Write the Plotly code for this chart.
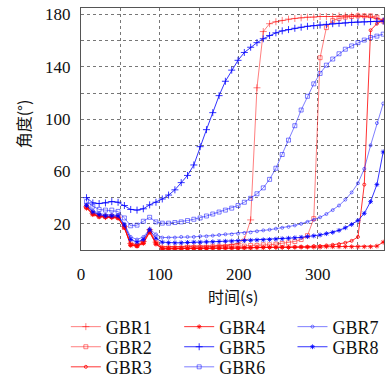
import plotly.graph_objects as go

# Sample times (s)
time_s = [7, 15, 23, 31, 39, 47, 55, 63, 71, 79, 87, 95, 103, 111, 119, 127,
          135, 143, 151, 159, 167, 175, 183, 191, 199, 207, 215, 223, 231, 239,
          247, 255, 263, 271, 279, 287, 295, 303, 311, 319, 327, 335, 343, 351,
          359, 367, 375, 383]

# Angle of each grain boundary (degrees)
gbr1 = [33, 28, 26, 25.5, 25.5, 25, 18, 5, 4, 6.5, 15.5, 6, 2.5,
        2.5, 2.5, 2.5, 3, 3, 3, 3, 3, 3.5, 3.5, 4, 5, 8, 23, 124, 167, 173,
        174.5, 175.5, 176.5, 177, 177.5, 178, 178, 178.5, 178.5, 178.5, 179, 179,
        179, 179, 178.5, 178, 177, 175]
gbr2 = [33, 28, 26, 25.5, 25.5, 25, 17.5, 4.5, 3.5, 6, 14.5, 5.5, 1.5,
        1.5, 1.5, 1.5, 2, 2, 2, 2, 2.5, 2.5, 2.5, 3, 3, 3, 3.5, 3.5, 4, 4,
        4.5, 5, 5.5, 6.5, 8, 11, 24, 147, 170, 175.5, 177, 178, 178.5, 179,
        179, 179, 178, 175]
gbr3 = [32.5, 27.5, 25.5, 25, 25, 24.5, 17, 4, 3, 5.5, 14, 5, 1,
        1, 1, 1, 1, 1, 1, 1.5, 1.5, 1.5, 1.5, 1.5, 1.5, 1.5, 1.5, 2, 2, 2,
        2, 2, 2, 2.5, 2.5, 2.5, 3, 3, 3.5, 4, 4.5, 5.5, 7, 10, 50, 168, 173,
        175.5]
gbr4 = [32, 27, 25.5, 25, 25, 24.5, 17, 3.5, 3, 5, 13.5, 4.5, 0.8,
        1, 1, 1, 1.2, 1.2, 1.2, 1.2, 1.5, 1.5, 1.5, 1.5, 1.5, 1.8, 1.8, 1.8,
        1.8, 2, 2, 2, 2, 2, 2.2, 2.2, 2.2, 2.2, 2.5, 2.5, 2.5, 2.5, 2.5, 2.5,
        2.5, 2.5, 3, 6]
gbr5 = [40, 36, 35.5, 36, 37, 36.5, 34, 31, 30.5, 31.5, 34.5, 36.5, 39,
        42, 46, 51.5, 57, 65, 79, 92, 105, 118, 129, 137.5, 145, 151, 155,
        158.5, 161.5, 164, 166, 167.5, 168.5, 169.5, 170.3, 171, 171.5, 172,
        172.5, 173, 173.3, 173.6, 174, 174.2, 174.4, 174.6, 174.8, 175]
gbr6 = [37, 33.5, 31, 30.5, 30.5, 29.5, 24.5, 18.5, 19, 22, 25, 21.5, 20.5,
        20.5, 21, 21.5, 22.5, 23.5, 24.5, 26, 27.5, 29, 30.5, 32, 34, 36.5,
        39.5, 43, 47.5, 54, 62.5, 73, 84, 95, 107, 117.5, 127, 135, 141.3,
        146, 150, 153.5, 156, 158.5, 160.5, 162.4, 163.5, 165]
gbr7 = [35, 30, 28, 27, 27, 26.5, 20, 10, 8, 10, 16, 12, 9.5,
        9.5, 9.5, 10, 10, 10, 10.5, 10.5, 11, 11.5, 12, 12, 12.5, 13, 13.5,
        14.3, 15, 15.5, 16.3, 17, 17.7, 18.8, 20, 21.5, 23, 25, 27.5, 30.5,
        34, 38.5, 44, 51, 62, 80, 97, 112]
gbr8 = [34, 29, 27, 26, 26, 26, 19, 8, 6, 8, 15.5, 9, 6,
        5.5, 5.5, 5.5, 5.8, 6, 6, 6.2, 6.3, 6.5, 6.7, 6.8, 7, 7.2, 7.4, 7.6,
        7.8, 8, 8.3, 8.6, 9, 9.3, 9.7, 10.2, 10.8, 11.5, 12.5, 13.5, 15, 17,
        19.5, 22.5, 28, 37, 50, 75]

x_tickvals = [0, 50, 100, 150, 200, 250, 300, 350]
x_ticktext = ["0", "", "100", "", "200", "", "300", ""]
y_tickvals = [0, 20, 40, 60, 80, 100, 120, 140, 160, 180]
y_ticktext = ["", "20", "", "60", "", "100", "", "140", "", "180"]

FONT = "Liberation Serif, Noto Sans CJK SC, serif"
CJK_FONT = "Noto Sans CJK SC, Liberation Serif, serif"
LIGHT_RED = "rgba(255,0,0,0.5)"
RED = "rgba(255,0,0,0.8)"
BLUE = "rgba(0,0,255,0.8)"
LIGHT_BLUE = "rgba(0,0,255,0.5)"

# name, values, colour, marker, marker size, legend column, legend row
series = [
    ("GBR1", gbr1, LIGHT_RED, "cross-thin-open", 5, 0, 0),
    ("GBR2", gbr2, LIGHT_RED, "square-open", 4, 0, 1),
    ("GBR3", gbr3, RED, "circle-open", 3, 0, 2),
    ("GBR4", gbr4, RED, "asterisk-open", 4, 1, 0),
    ("GBR5", gbr5, BLUE, "cross-thin-open", 5, 1, 1),
    ("GBR6", gbr6, LIGHT_BLUE, "square-open", 4, 1, 2),
    ("GBR7", gbr7, LIGHT_BLUE, "circle-open", 3, 2, 0),
    ("GBR8", gbr8, BLUE, "asterisk-open", 4, 2, 1),
]

legend_cols = [-0.05, 0.324, 0.698]
legend_rows = [-0.318, -0.401, -0.484]

fig = go.Figure()
layout_legends = {}
for i, (name, vals, color, symbol, size, col, row) in enumerate(series):
    key = "legend" if i == 0 else f"legend{i + 1}"
    fig.add_trace(go.Scatter(
        x=time_s, y=vals, name=name, mode="lines+markers",
        line=dict(color=color, width=1),
        marker=dict(symbol=symbol, size=size, color=color,
                    line=dict(color=color, width=1)),
        legend=key,
    ))
    layout_legends[key] = dict(
        x=legend_cols[col], y=legend_rows[row],
        xanchor="left", yanchor="middle", orientation="v",
        bgcolor="rgba(0,0,0,0)", borderwidth=0, itemwidth=30,
        font=dict(family=FONT, size=18, color="#111"),
    )

fig.update_layout(
    width=387, height=378,
    margin=dict(l=81, r=3, t=8, b=128, autoexpand=False),
    plot_bgcolor="white", paper_bgcolor="white",
    font=dict(family=FONT, size=17, color="#111"),
    showlegend=True,
    **layout_legends,
    xaxis=dict(
        range=[0, 384], tickmode="array", tickvals=x_tickvals,
        ticktext=x_ticktext, showgrid=True, gridcolor="#777",
        griddash="dot", gridwidth=1, zeroline=False,
        showline=True, linecolor="#555", linewidth=1, mirror=True,
        ticks="", ticklabelstandoff=9,
    ),
    yaxis=dict(
        range=[0, 185], tickmode="array", tickvals=y_tickvals,
        ticktext=y_ticktext, showgrid=True, gridcolor="#777",
        griddash="dot", gridwidth=1, zeroline=False,
        showline=True, linecolor="#555", linewidth=1, mirror=True,
        ticks="", ticklabelstandoff=6,
    ),
    annotations=[
        dict(text="时间(s)", xref="paper", yref="paper", x=0.5, y=-0.19,
             xanchor="center", yanchor="middle", showarrow=False,
             font=dict(family=CJK_FONT, size=16, color="#111")),
        dict(text="角度(°)", xref="paper", yref="paper", x=-0.191, y=0.52,
             xanchor="center", yanchor="middle", showarrow=False,
             textangle=-90,
             font=dict(family=CJK_FONT, size=16, color="#111")),
    ],
)

fig.write_html("out.html")
